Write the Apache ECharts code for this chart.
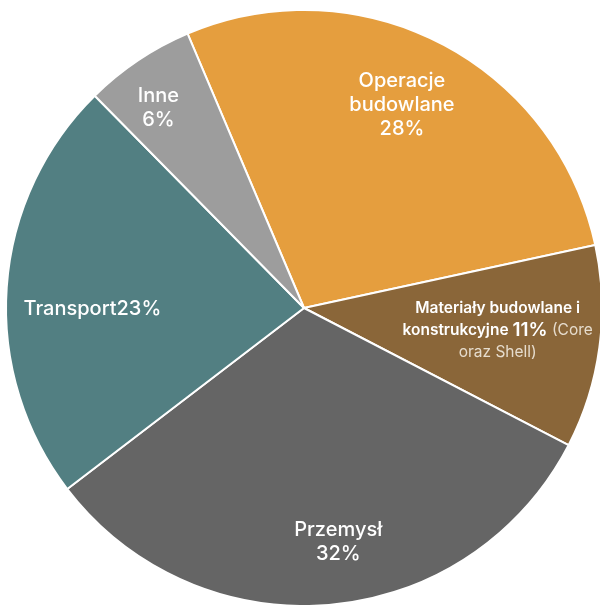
<!DOCTYPE html>
<html>
<head>
<meta charset="utf-8">
<script src="https://cdn.jsdelivr.net/npm/echarts@6/dist/echarts.min.js"></script>
<style>
html,body{margin:0;padding:0;background:#fff;}
#chart{width:600px;height:605px;}
</style>
</head>
<body>
<div id="chart"></div>
<script>
const categories = ['Operacje budowlane', 'Materiały budowlane i konstrukcyjne', 'Przemysł', 'Transport', 'Inne'];
const values = [28, 11, 32, 23, 6];
const colors = ['#E59E3E', '#8A6639', '#656565', '#527F82', '#9D9D9D'];

// label placement tweaks (pixels, relative to default inside position)
const labelOffsets = [[28, -68], [43, 2], [21, 83], [-60, 12], [-61, -74]];

const formatters = [
  p => 'Operacje\nbudowlane\n' + p.value + '%',
  p => '{b|Materiały budowlane i}\n{b|konstrukcyjne }{big|' + p.value + '%}{l| (Core}\n{l|oraz Shell)}',
  p => 'Przemysł\n' + p.value + '%',
  p => 'Transport' + p.value + '%',
  p => 'Inne\n' + p.value + '%'
];

const data = categories.map((name, i) => ({
  name: name,
  value: values[i],
  itemStyle: { color: colors[i] },
  label: {
    formatter: formatters[i],
    offset: labelOffsets[i],
    align: i === 4 ? 'right' : 'center'
  }
}));

const chart = echarts.init(document.getElementById('chart'), null, { renderer: 'canvas' });
chart.setOption({
  animation: false,
  series: [{
    type: 'pie',
    center: [304, 308],
    radius: [0, 298],
    startAngle: 113,
    clockwise: true,
    avoidLabelOverlap: false,
    emphasis: { disabled: true },
    itemStyle: { borderColor: '#ffffff', borderWidth: 2 },
    labelLine: { show: false },
    label: {
      show: true,
      position: 'inside',
      color: '#ffffff',
      fontFamily: 'Inter',
      fontWeight: 500,
      fontSize: 20,
      lineHeight: 24,
      rich: {
        b: { color: '#ffffff', fontFamily: 'Inter', fontWeight: 600, fontSize: 15.5, lineHeight: 22 },
        big: { color: '#ffffff', fontFamily: 'Inter', fontWeight: 600, fontSize: 19, lineHeight: 22 },
        l: { color: '#E6DCCD', fontFamily: 'Inter', fontWeight: 400, fontSize: 15.5, lineHeight: 22 }
      }
    },
    data: data
  }]
});
</script>
</body>
</html>
